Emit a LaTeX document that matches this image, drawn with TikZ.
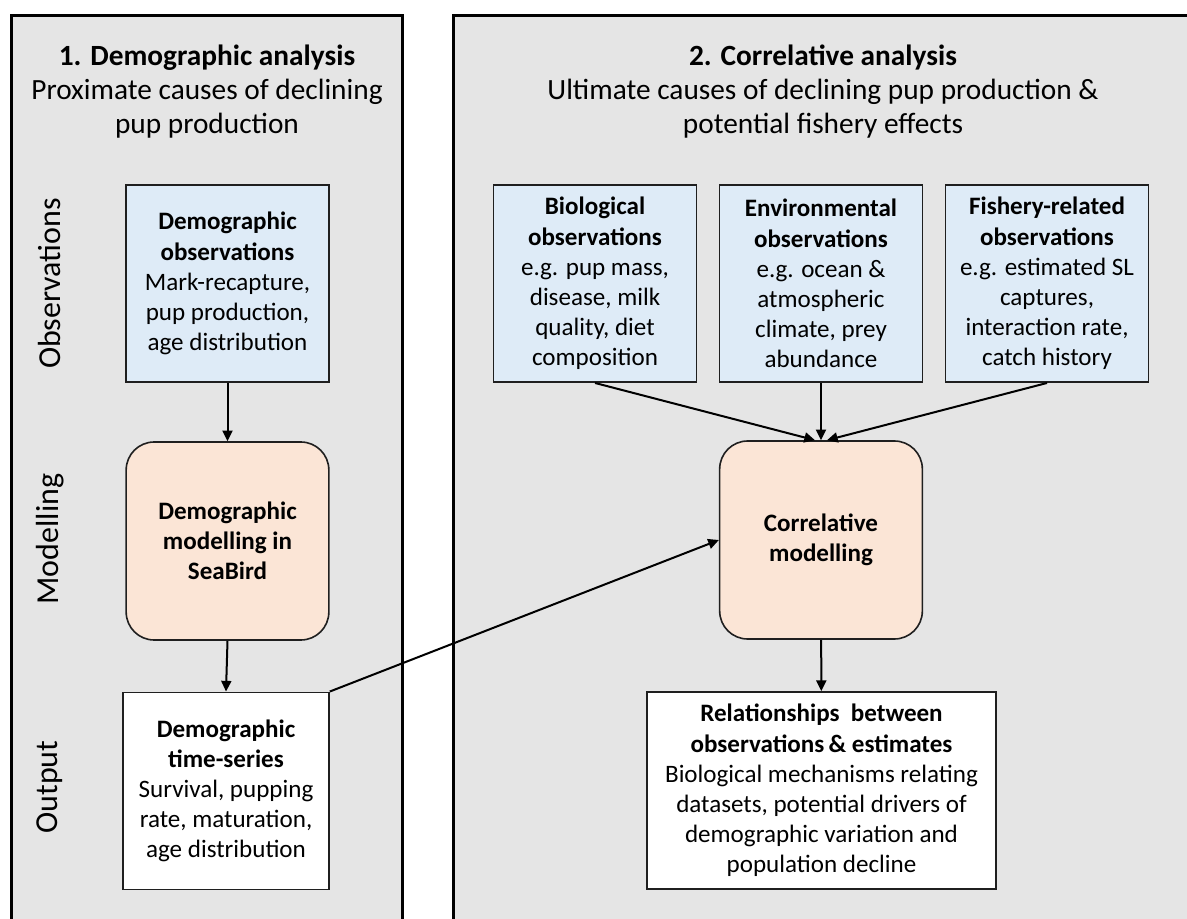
\documentclass[tikz,border=0pt]{standalone}
\usepackage{fontspec}
\setmainfont{Carlito}
\usetikzlibrary{arrows.meta}

\definecolor{panelgrey}{HTML}{E5E5E5}
\definecolor{obsblue}{HTML}{DEEBF7}
\definecolor{modpeach}{HTML}{FBE5D6}
\definecolor{edgegrey}{HTML}{1F1F1F}

\tikzset{
	panel/.style={draw=black, line width=2.25pt, fill=panelgrey},
	boxtext/.style={font=\fontsize{18.8}{22.6}\selectfont, align=center, inner sep=0pt},
	obsbox/.style={boxtext, draw=edgegrey, line width=1.2pt, fill=obsblue, minimum width=152pt, minimum height=148pt},
	modbox/.style={boxtext, draw=edgegrey, line width=1.2pt, fill=modpeach, rounded corners=21pt, minimum width=152pt, minimum height=148.5pt},
	outbox/.style={boxtext, draw=edgegrey, line width=1.2pt, fill=white, minimum width=154.5pt, minimum height=148pt},
	rowlabel/.style={font=\fontsize{24}{28}\selectfont, rotate=90},
	titletext/.style={font=\fontsize{22}{25.5}\selectfont, align=center},
	flow/.style={-{Triangle[length=8pt,width=7.5pt]}, line width=1.5pt, draw=black},
}

\begin{document}
\begin{tikzpicture}[x=0.75pt, y=-0.75pt]
		\path[use as bounding box, clip] (0,0) rectangle (1187,919);
		
		% panels
		\draw[panel] (11.5,935) |- (402.5,15.5) -- (402.5,935);
		\draw[panel] (453.5,935) |- (1205,15.5) -- (1205,935);
		
		\node[titletext] (ttldemo) at (207,92) {\textbf{1. Demographic analysis}\\Proximate causes of declining\\pup production};
		\node[titletext] (ttlcorr) at (823,92) {\textbf{2. Correlative analysis}\\Ultimate causes of declining pup production \&\\potential fishery effects};
		
		\node[rowlabel] (rowobs) at (50,283.5) {Observations};
		\node[rowlabel] (rowmod) at (50,539) {Modelling};
		\node[rowlabel] (rowout) at (50,787) {Output};
		
		% demographic side
		\node[obsbox] (dobs) at (227.5,283.5) {\textbf{Demographic}\\\textbf{observations}\\Mark-recapture,\\pup production,\\age distribution};
		\node[modbox] (dmod) at (227.5,541) {\textbf{Demographic}\\\textbf{modelling in}\\\textbf{SeaBird}};
		\node[outbox] (dout) at (226,791) {\textbf{Demographic}\\\textbf{time-series}\\Survival, pupping\\rate, maturation,\\age distribution};
		
		% correlative side
		\node[obsbox] (bio) at (595,283.5) {\textbf{Biological}\\\textbf{observations}\\e.g. pup mass,\\disease, milk\\quality, diet\\composition};
		\node[obsbox] (env) at (821,283.5) {\textbf{Environmental}\\\textbf{observations}\\e.g. ocean \&\\atmospheric\\climate, prey\\abundance};
		\node[obsbox] (fish) at (1047,283.5) {\textbf{Fishery-related}\\\textbf{observations}\\e.g. estimated SL\\captures,\\interaction rate,\\catch history};
		\node[modbox] (corr) at (821,540) {\textbf{Correlative}\\\textbf{modelling}};
		\node[outbox, minimum width=262pt] (rel) at (821.5,790.5) {\textbf{Relationships\ \ between}\\\textbf{observations\,\& estimates}\\Biological mechanisms relating\\datasets, potential drivers of\\demographic variation and\\population decline};
		
		\draw[flow] (dobs) -- (dmod);
		\draw[flow] (dmod.south) -- (dout.north);
		\draw[flow] (dout.north east) -- (corr.west);
		\draw[flow] (bio.south) -- ([xshift=-4.5pt]corr.north);
		\draw[flow] (env) -- (corr);
		\draw[flow] (fish.south) -- ([xshift=4.5pt]corr.north);
		\draw[flow] (corr) -- (rel);
\end{tikzpicture}
\end{document}
